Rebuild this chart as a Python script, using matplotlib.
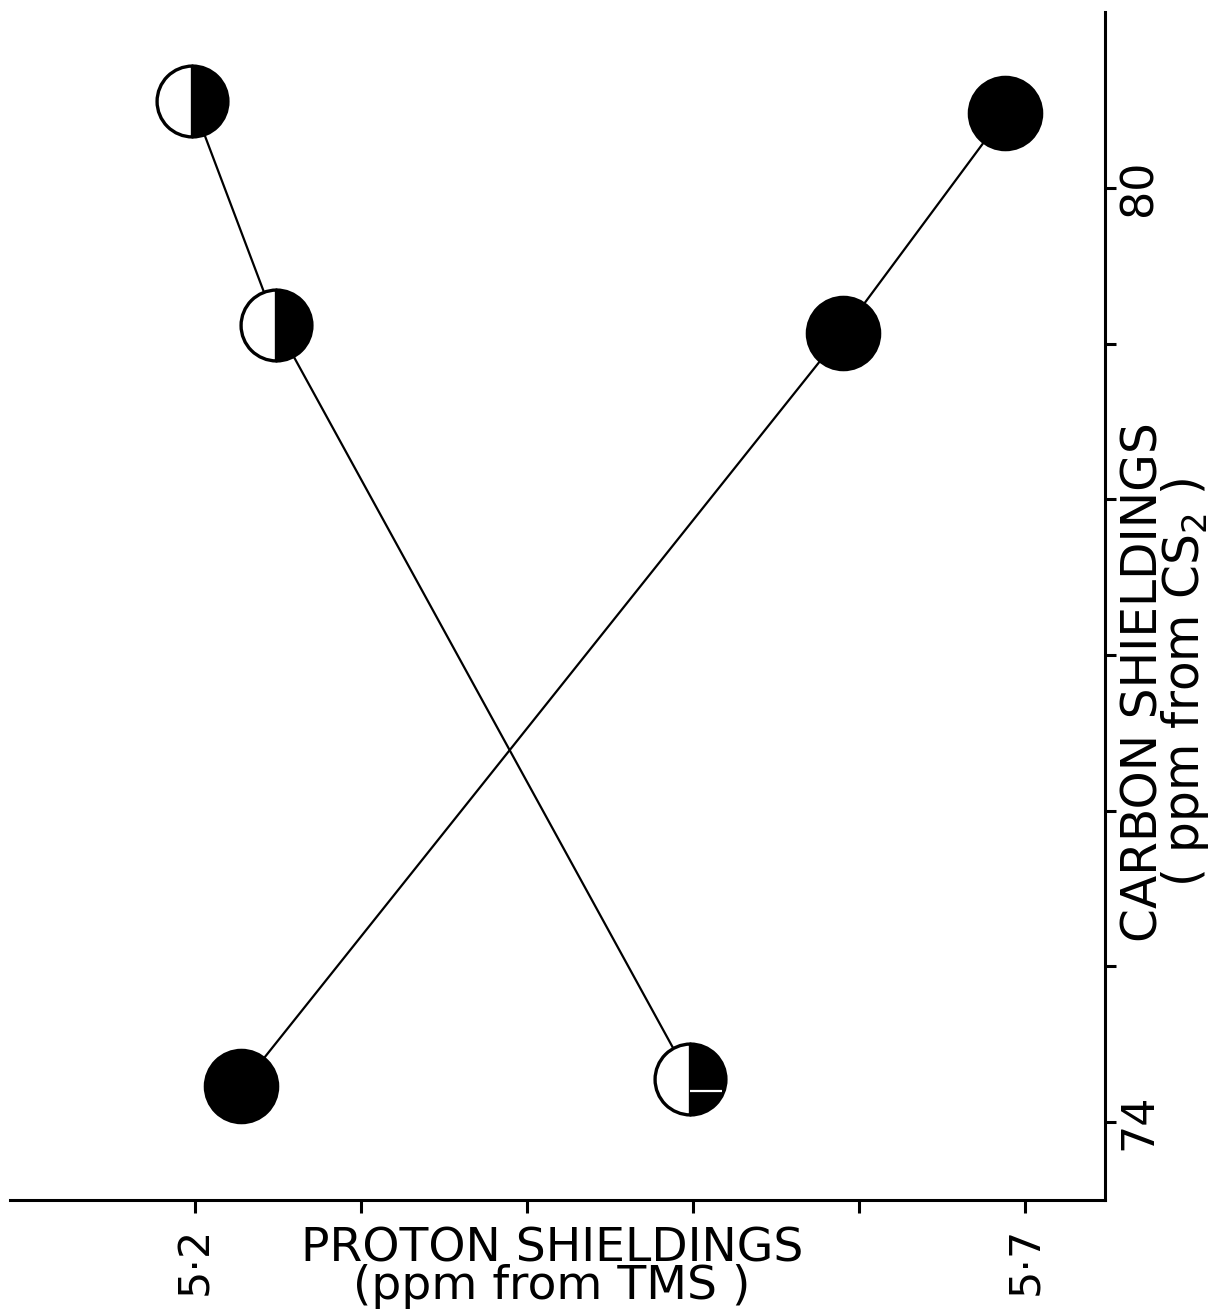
import matplotlib
matplotlib.use("Agg")
import matplotlib.pyplot as plt
from matplotlib.path import Path

# Shieldings for the two signal sets (proton in ppm from TMS, carbon in ppm from CS2)
proton_half = [5.198, 5.249, 5.498]
carbon_half = [80.56, 79.12, 74.28]
proton_full = [5.688, 5.590, 5.228]
carbon_full = [80.48, 79.07, 74.23]

proton_ticks = [5.2, 5.3, 5.4, 5.5, 5.6, 5.7]
proton_ticklabels = ["5·2", "", "", "", "", "5·7"]
carbon_ticks = [74, 75, 76, 77, 78, 79, 80]
carbon_ticklabels = ["74", "", "", "", "", "", "80"]

proton_title = "PROTON SHIELDINGS\n(ppm from TMS )"
carbon_title = "CARBON SHIELDINGS\n( ppm from CS$_2$ )"

plt.rcParams["font.family"] = ["DejaVu Sans"]
plt.rcParams["mathtext.default"] = "regular"

W, H = 1213, 1315
fig = plt.figure(figsize=(W / 100, H / 100), dpi=100)
ax = fig.add_axes([10 / W, 1 - 1200 / H, 1095 / W, 1188 / H])
ax.set_xlim(5.0886, 5.748)
ax.set_ylim(73.5, 81.13)

for s in ("top", "left"):
    ax.spines[s].set_visible(False)
for s in ("bottom", "right"):
    ax.spines[s].set_linewidth(2.2)

ax.yaxis.tick_right()
ax.set_xticks(proton_ticks)
ax.set_xticklabels(proton_ticklabels, rotation=90, fontsize=31)
ax.set_yticks(carbon_ticks)
ax.set_yticklabels(carbon_ticklabels, rotation=90, fontsize=32, va="center")
ax.tick_params(axis="x", direction="out", length=9, width=2.2, pad=10)
ax.tick_params(axis="y", direction="out", length=8, width=2.2, pad=1,
               right=True, left=False)

# connecting lines
ax.plot(proton_half, carbon_half, "-", color="black", lw=1.6, zorder=1)
ax.plot(proton_full, carbon_full, "-", color="black", lw=1.6, zorder=1)

# half-filled circles
ax.plot(proton_half, carbon_half, ls="none", marker="o", ms=51,
        fillstyle="right", mfc="black", mfcalt="white", mec="black",
        mew=2.4, zorder=3)
# solid circles
ax.plot(proton_full, carbon_full, ls="none", marker="o", ms=52,
        mfc="black", mec="black", mew=2.4, zorder=3)

# white split in the lower right quarter of the last half-filled circle
split = Path([(1, 0), (0, -0.34), (0.9, -0.34)],
             [Path.MOVETO, Path.MOVETO, Path.LINETO])
ax.plot([proton_half[2]], [carbon_half[2]], ls="none", marker=split, ms=51,
        mfc="none", mec="white", mew=1.6, zorder=4)

# axis titles
fig.text(552 / W, 1 - 1268 / H, proton_title, ha="center", va="center",
         multialignment="center", fontsize=34, linespacing=0.78)
fig.text(1211 / W, 1 - 682 / H, carbon_title, rotation=90, ha="right",
         va="center", multialignment="center", fontsize=35, linespacing=0.8)

fig.savefig("out.png", dpi=100, facecolor="white")
